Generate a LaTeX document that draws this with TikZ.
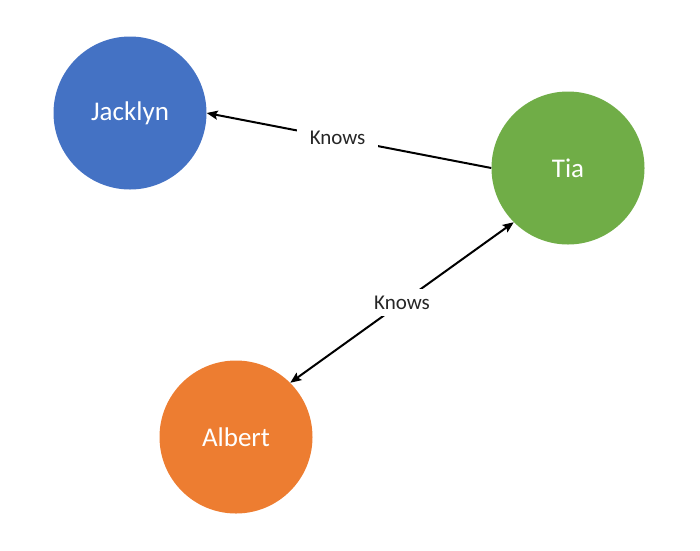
\documentclass[tikz,border=0pt]{standalone}
\usepackage{fontspec}
\setmainfont{Carlito}
\usetikzlibrary{arrows.meta}
\definecolor{cblue}{HTML}{4472C4}
\definecolor{cgreen}{HTML}{70AD47}
\definecolor{corange}{HTML}{ED7D31}
\begin{document}
\begin{tikzpicture}[x=1pt,y=-1pt,
  person/.style={circle,minimum size=153pt,inner sep=0pt,text=white,font=\fontsize{27}{30}\selectfont},
  rel/.style={line width=2pt,black},
  tip/.style={{Stealth[length=11pt,width=9pt,inset=2pt]}},
  lbl/.style={fill=white,inner xsep=13pt,inner ysep=7pt,font=\fontsize{21}{24}\selectfont,text=black!85}]
\useasboundingbox (0,0) rectangle (700,550);
\node[person,fill=cblue] (jacklyn) at (130,113) {Jacklyn};
\node[person,fill=cgreen] (tia) at (568,168) {Tia};
\node[person,fill=corange] (albert) at (236,437) {Albert};
\draw[rel,-{Stealth[length=11pt,width=9pt,inset=2pt]}] (tia.west) -- node[lbl,pos=0.54] {Knows} (jacklyn.east);
\draw[rel,{Stealth[length=11pt,width=9pt,inset=2pt]}-{Stealth[length=11pt,width=9pt,inset=2pt]}] (tia.south west) -- node[lbl] {Knows} (albert.north east);
\end{tikzpicture}
\end{document}
